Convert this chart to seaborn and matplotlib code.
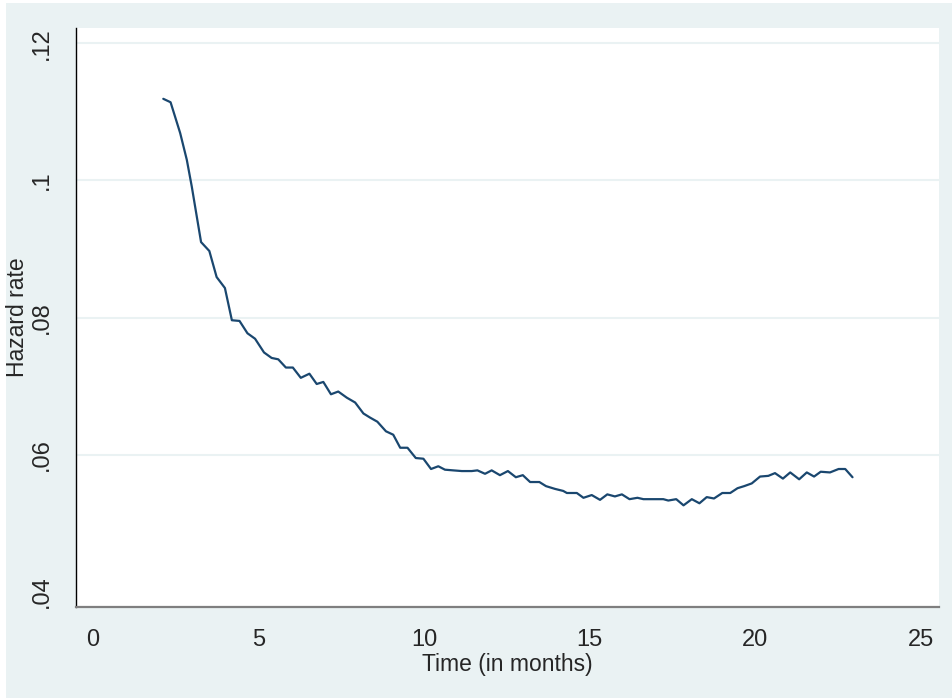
import matplotlib
matplotlib.use("Agg")
import matplotlib.pyplot as plt
import matplotlib.patches as patches
import numpy as np
import pandas as pd
import seaborn as sns

# --- Data -------------------------------------------------------------------
months = [2.13, 2.35, 2.64, 2.84, 2.99, 3.09, 3.27, 3.52, 3.74, 3.99,
          4.20, 4.43, 4.67, 4.90, 5.17, 5.40, 5.60, 5.83, 6.04, 6.28,
          6.54, 6.76, 6.96, 7.19, 7.41, 7.67, 7.92, 8.17, 8.37, 8.59,
          8.85, 9.07, 9.28, 9.50, 9.75, 9.98, 10.21, 10.43, 10.63, 10.88,
          11.14, 11.44, 11.61, 11.84, 12.04, 12.29, 12.53, 12.77, 12.98, 13.20,
          13.48, 13.68, 13.95, 14.20, 14.31, 14.61, 14.81, 15.06, 15.31, 15.53,
          15.76, 15.97, 16.20, 16.44, 16.62, 17.02, 17.22, 17.37, 17.61, 17.83,
          18.08, 18.31, 18.53, 18.75, 19.00, 19.24, 19.46, 19.66, 19.89, 20.14,
          20.39, 20.59, 20.83, 21.05, 21.32, 21.55, 21.77, 21.97, 22.25, 22.51,
          22.71, 22.93]
hazard = [0.1119, 0.1114, 0.1069, 0.1030, 0.0991, 0.0962, 0.0910, 0.0897, 0.0859, 0.0843,
          0.0796, 0.0795, 0.0777, 0.0769, 0.0749, 0.0741, 0.0739, 0.0727, 0.0727, 0.0712,
          0.0718, 0.0703, 0.0706, 0.0688, 0.0692, 0.0683, 0.0676, 0.0660, 0.0654, 0.0648,
          0.0634, 0.0629, 0.0610, 0.0610, 0.0595, 0.0594, 0.0579, 0.0583, 0.0578, 0.0577,
          0.0576, 0.0576, 0.0577, 0.0572, 0.0577, 0.0570, 0.0576, 0.0567, 0.0570, 0.0560,
          0.0560, 0.0554, 0.0550, 0.0547, 0.0544, 0.0544, 0.0537, 0.0541, 0.0534, 0.0542,
          0.0539, 0.0542, 0.0535, 0.0537, 0.0535, 0.0535, 0.0535, 0.0533, 0.0535, 0.0526,
          0.0535, 0.0529, 0.0538, 0.0536, 0.0544, 0.0544, 0.0551, 0.0554, 0.0558, 0.0568,
          0.0569, 0.0573, 0.0565, 0.0574, 0.0564, 0.0574, 0.0568, 0.0575, 0.0574, 0.0579,
          0.0579, 0.0567]

x_ticks = [0, 5, 10, 15, 20, 25]
y_ticks = [0.04, 0.06, 0.08, 0.10, 0.12]
y_tick_labels = [".04", ".06", ".08", ".1", ".12"]

df = pd.DataFrame({"months": months, "hazard": hazard})

# --- Style -------------------------------------------------------------------
sns.set_style("white")
plt.rcParams["font.family"] = ["Liberation Sans", "DejaVu Sans"]

BG = "#eaf2f3"
LINE = "#1a476f"

fig = plt.figure(figsize=(9.53, 6.98), dpi=100, facecolor="white")
# Stata-style outer panel, with a thin white margin at the top-left
fig.patches.append(patches.Rectangle((6 / 953, 0), 1 - 6 / 953, 1 - 3 / 698,
                                     transform=fig.transFigure, facecolor=BG,
                                     edgecolor="none", zorder=-10))

ax = fig.add_axes([76 / 953, 1 - 607 / 698, (939 - 76) / 953, (607 - 28) / 698])
ax.set_facecolor("white")

for y in y_ticks[1:]:
    ax.axhline(y, color=BG, linewidth=1.5, zorder=1)

sns.lineplot(data=df, x="months", y="hazard", color=LINE, linewidth=1.6,
             ax=ax, zorder=3)

ax.set_xlim(-0.504, 25.54)
ax.set_ylim(0.03777, 0.12223)
ax.set_xticks(x_ticks)
ax.set_xticklabels([str(t) for t in x_ticks])
ax.set_yticks(y_ticks)
ax.set_yticklabels(y_tick_labels, rotation=90, va="center")

for side in ("top", "right"):
    ax.spines[side].set_visible(False)
ax.spines["left"].set_color("black")
ax.spines["left"].set_linewidth(1.0)
ax.spines["bottom"].set_color("#7f7f7f")
ax.spines["bottom"].set_linewidth(1.6)

ax.tick_params(axis="x", length=7, width=1, color="#333333", pad=9,
               labelsize=17, direction="out")
ax.tick_params(axis="y", length=9, width=1, color="#7f7f7f", pad=8,
               labelsize=17, direction="out")

ax.set_xlabel("Time (in months)", fontsize=16.5, labelpad=1)
ax.set_ylabel("Hazard rate", fontsize=16.5, labelpad=1)

fig.savefig("out.png", dpi=100, facecolor="white")
